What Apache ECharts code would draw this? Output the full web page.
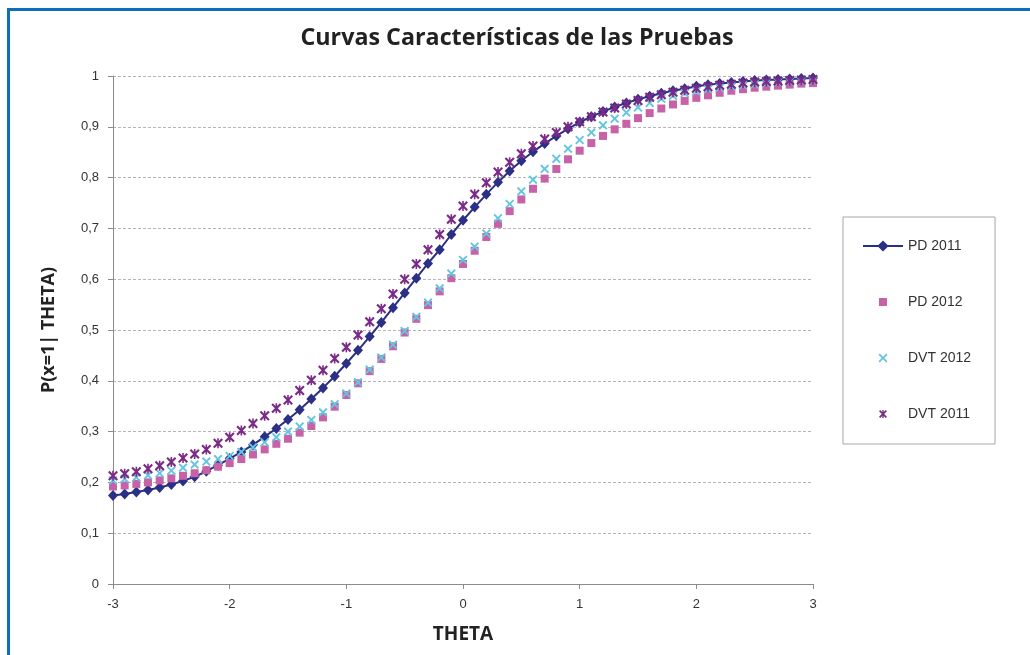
<!DOCTYPE html>
<html><head><meta charset="utf-8">
<script src="https://cdn.jsdelivr.net/npm/echarts@6/dist/echarts.min.js"></script>
<style>html,body{margin:0;padding:0;background:#fff}#c{width:1030px;height:655px}</style>
</head><body><div id="c"></div>
<script>
const theta = [-3,-2.9,-2.8,-2.7,-2.6,-2.5,-2.4,-2.3,-2.2,-2.1,-2,-1.9,-1.8,-1.7,-1.6,-1.5,-1.4,-1.3,-1.2,-1.1,-1,-0.9,-0.8,-0.7,-0.6,-0.5,-0.4,-0.3,-0.2,-0.1,0,0.1,0.2,0.3,0.4,0.5,0.6,0.7,0.8,0.9,1,1.1,1.2,1.3,1.4,1.5,1.6,1.7,1.8,1.9,2,2.1,2.2,2.3,2.4,2.5,2.6,2.7,2.8,2.9,3];
const pd2011 = [0.174,0.177,0.181,0.185,0.190,0.196,0.203,0.211,0.222,0.234,0.247,0.260,0.274,0.290,0.306,0.324,0.343,0.364,0.386,0.409,0.434,0.460,0.487,0.515,0.544,0.573,0.602,0.631,0.658,0.688,0.716,0.742,0.767,0.791,0.813,0.833,0.851,0.867,0.882,0.896,0.909,0.920,0.930,0.939,0.947,0.954,0.960,0.966,0.971,0.975,0.980,0.983,0.985,0.987,0.989,0.991,0.992,0.993,0.994,0.995,0.996];
const pd2012 = [0.192,0.194,0.197,0.200,0.204,0.208,0.213,0.218,0.224,0.231,0.238,0.246,0.255,0.265,0.276,0.286,0.298,0.311,0.328,0.349,0.372,0.395,0.419,0.443,0.468,0.495,0.522,0.549,0.576,0.602,0.630,0.656,0.683,0.709,0.734,0.757,0.778,0.798,0.817,0.836,0.853,0.868,0.882,0.895,0.906,0.917,0.927,0.936,0.944,0.951,0.957,0.962,0.967,0.971,0.974,0.977,0.979,0.981,0.983,0.985,0.986];
const dvt2012 = [0.204,0.207,0.210,0.214,0.218,0.223,0.229,0.235,0.241,0.246,0.252,0.260,0.269,0.279,0.289,0.300,0.310,0.323,0.338,0.354,0.375,0.397,0.422,0.446,0.471,0.498,0.526,0.554,0.582,0.611,0.638,0.664,0.690,0.720,0.748,0.773,0.796,0.817,0.837,0.857,0.874,0.889,0.903,0.916,0.928,0.938,0.947,0.955,0.961,0.966,0.970,0.974,0.977,0.980,0.982,0.984,0.986,0.988,0.989,0.990,0.991];
const dvt2011 = [0.213,0.217,0.221,0.227,0.233,0.240,0.248,0.256,0.265,0.277,0.289,0.302,0.316,0.331,0.346,0.362,0.381,0.401,0.421,0.444,0.466,0.490,0.516,0.542,0.571,0.600,0.630,0.658,0.688,0.718,0.744,0.767,0.790,0.811,0.830,0.847,0.862,0.876,0.889,0.900,0.910,0.920,0.929,0.937,0.945,0.952,0.958,0.963,0.968,0.972,0.976,0.979,0.982,0.984,0.986,0.988,0.989,0.990,0.991,0.992,0.993];
const seriesNames = ['PD 2011','PD 2012','DVT 2012','DVT 2011'];
const seriesColors = ['#2b2f85','#c862a8','#63c6df','#7c2a88'];

const xPath = 'path://M0,1.5 L1.5,0 L5,3.5 L8.5,0 L10,1.5 L6.5,5 L10,8.5 L8.5,10 L5,6.5 L1.5,10 L0,8.5 L3.5,5 Z';
const starPath = 'path://M0,1.5 L1.5,0 L5,3.5 L8.5,0 L10,1.5 L6.5,5 L10,8.5 L8.5,10 L5,6.5 L1.5,10 L0,8.5 L3.5,5 Z M4.2,0 L5.8,0 L5.8,10 L4.2,10 Z';
const sqIcon = 'path://M0,0 Z M14,14 Z M3,3 L11,3 L11,11 L3,11 Z';
const xIcon = 'path://M0,0 Z M14,14 Z M2.5,3.8 L3.8,2.5 L7,5.7 L10.2,2.5 L11.5,3.8 L8.3,7 L11.5,10.2 L10.2,11.5 L7,8.3 L3.8,11.5 L2.5,10.2 L5.7,7 Z';
const starIcon = 'path://M0,0 Z M14,14 Z M3,4.2 L4.2,3 L7,5.8 L9.8,3 L11,4.2 L8.2,7 L11,9.8 L9.8,11 L7,8.2 L4.2,11 L3,9.8 L5.8,7 Z M6.3,3 L7.7,3 L7.7,11 L6.3,11 Z';

const chart = echarts.init(document.getElementById('c'), null, {renderer:'canvas'});
const mk = (arr) => theta.map((t, i) => [t, arr[i]]);
const fontAxis = 'Liberation Sans';
const fontTitle = 'Open Sans';

chart.setOption({
  animation: false,
  backgroundColor: '#fff',
  grid: {left: 113, right: 217, top: 76, bottom: 71, containLabel: false},
  graphic: [
    {type:'line', shape:{x1:7, y1:9.5, x2:1030, y2:9.5}, style:{stroke:'#0b6fb9', lineWidth:3}, silent:true},
    {type:'line', shape:{x1:8.5, y1:8, x2:8.5, y2:655}, style:{stroke:'#0b6fb9', lineWidth:3}, silent:true},
    {type:'text', x: 517, y: 38, scaleX: 0.97,
     style:{text:'Curvas Características de las Pruebas', font:'bold 24px "Open Sans"', fill:'#222', align:'center', verticalAlign:'middle'}, silent:true}
  ],
  legend: {
    orient: 'vertical', left: 843, top: 217,
    padding: [22, 24, 23, 19],
    itemWidth: 40, itemHeight: 14, itemGap: 42,
    borderColor: '#a6a6a6', borderWidth: 1, backgroundColor: '#fff',
    itemStyle: {borderWidth: 0},
    textStyle: {fontFamily: fontAxis, fontSize: 14, color: '#333'},
    data: [
      {name: 'PD 2011'},
      {name: 'PD 2012', icon: sqIcon},
      {name: 'DVT 2012', icon: xIcon},
      {name: 'DVT 2011', icon: starIcon}
    ],
    selectedMode: false
  },
  xAxis: {
    type: 'value', min: -3, max: 3, interval: 1,
    name: 'THETA', nameLocation: 'middle', nameGap: 41,
    nameTextStyle: {fontFamily: fontTitle, fontWeight: 'bold', fontSize: 19, color: '#222'},
    axisLine: {onZero: false, lineStyle: {color: '#8c8c8c', width: 1}},
    axisTick: {show: true, length: 5, lineStyle: {color: '#8c8c8c'}},
    axisLabel: {fontFamily: fontAxis, fontSize: 13, color: '#333', margin: 14},
    splitLine: {show: false}
  },
  yAxis: {
    type: 'value', min: 0, max: 1, interval: 0.1,
    name: 'P(x=1| THETA)', nameLocation: 'middle', nameGap: 55, nameRotate: 90,
    nameTextStyle: {fontFamily: fontTitle, fontWeight: 'bold', fontSize: 18, color: '#222'},
    axisLine: {show: true, onZero: false, lineStyle: {color: '#8c8c8c', width: 1}},
    axisTick: {show: true, length: 5, lineStyle: {color: '#8c8c8c'}},
    axisLabel: {fontFamily: fontAxis, fontSize: 13, color: '#333', margin: 14,
      formatter: v => String(Math.round(v * 10) / 10).replace('.', ',')},
    splitLine: {show: true, lineStyle: {color: '#b4b4b4', type: [3, 2], width: 1}}
  },
  series: [
    {name: seriesNames[0], type: 'line', data: mk(pd2011), symbol: 'diamond', symbolSize: [10, 11],
     showAllSymbol: true, color: seriesColors[0], lineStyle: {color: seriesColors[0], width: 2},
     itemStyle: {color: seriesColors[0]}, silent: true, emphasis: {disabled: true}},
    {name: seriesNames[1], type: 'line', data: mk(pd2012), symbol: 'rect', symbolSize: 8,
     showAllSymbol: true, color: seriesColors[1], lineStyle: {opacity: 0, width: 0},
     itemStyle: {color: seriesColors[1]}, silent: true, emphasis: {disabled: true}},
    {name: seriesNames[2], type: 'line', data: mk(dvt2012), symbol: xPath, symbolSize: 9,
     showAllSymbol: true, color: seriesColors[2], lineStyle: {opacity: 0, width: 0},
     itemStyle: {color: seriesColors[2]}, silent: true, emphasis: {disabled: true}},
    {name: seriesNames[3], type: 'line', data: mk(dvt2011), symbol: starPath, symbolSize: 10,
     showAllSymbol: true, color: seriesColors[3], lineStyle: {opacity: 0, width: 0},
     itemStyle: {color: seriesColors[3]}, silent: true, emphasis: {disabled: true}}
  ]
});
</script>
</body></html>
